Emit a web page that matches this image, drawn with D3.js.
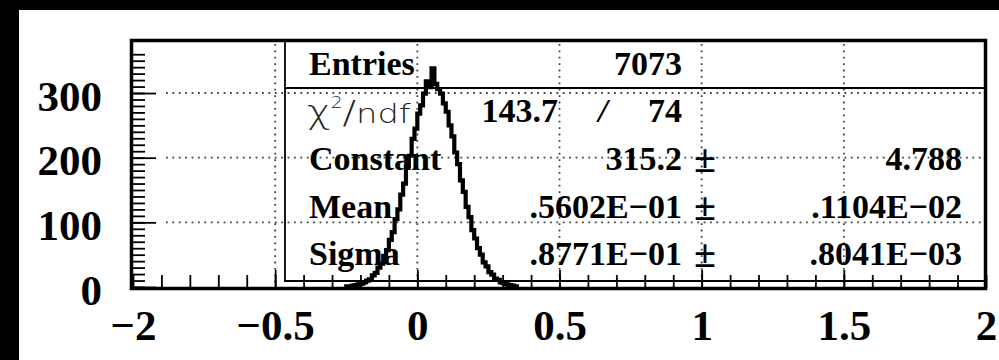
<!DOCTYPE html>
<html>
<head>
<meta charset="utf-8">
<script src="https://cdn.jsdelivr.net/npm/d3@7"></script>
<style>
body { margin: 0; background: #000; }
svg { display: block; }
</style>
</head>
<body>
<svg id="canvas" width="999" height="360"></svg>
<script>
'use strict';

// histogram: 0.01 wide bins, first left edge at -0.25
const binStart = -0.25;
const binWidth = 0.01;
const binCounts = [
  1, 1, 2, 3, 4, 5, 7, 10, 12, 18,
  22, 30, 36, 48, 57, 73, 85, 105, 120, 143,
  160, 186, 203, 229, 245, 268, 281, 299, 318, 309,
  338, 314, 306, 299, 284, 271, 250, 233, 208, 190,
  165, 147, 124, 108, 88, 75, 60, 50, 38, 32,
  23, 19, 13, 11, 7, 6, 4, 3, 2, 1
];

const xTickValues = [-1, -0.5, 0, 0.5, 1, 1.5, 2];
const xTickLabels = ['\u22122', '\u22120.5', '0', '0.5', '1', '1.5', '2'];
const xGridValues = [-0.5, 0, 0.5, 1, 1.5];
const yTickValues = [0, 100, 200, 300];
const yGridValues = [100, 200, 300];

const statNames = ['Entries', '', 'Constant', 'Mean', 'Sigma'];
const statValues = ['7073', '74', '315.2', '.5602E\u221201', '.8771E\u221201'];
const statErrors = ['', '', '4.788', '.1104E\u221202', '.8041E\u221203'];
const chi2Value = '143.7';

function Main() {
  const svg = d3.select('#canvas');
  const left = 132, right = 985, top = 41, bottom = 288;
  const serif = '"Liberation Serif", "Times New Roman", serif';

  svg.append('rect').attr('x', 19).attr('y', 10)
      .attr('width', 980).attr('height', 350).attr('fill', '#fff');

  const x = d3.scaleLinear().domain([-1, 2]).range([left + 1, right + 1]);
  const y = d3.scaleLinear().domain([0, 382]).range([bottom - 1, top - 1]);

  // dotted grid
  const grid = svg.append('g')
      .attr('stroke', '#444').attr('stroke-width', 1.8)
      .attr('stroke-dasharray', '1.8,4.6');
  grid.selectAll('line.gx').data(xGridValues).enter().append('line')
      .attr('x1', x).attr('x2', x).attr('y1', top + 3).attr('y2', bottom - 2);
  grid.selectAll('line.gy').data(yGridValues).enter().append('line')
      .attr('x1', left + 34).attr('x2', right - 2).attr('y1', y).attr('y2', y);

  // stats box
  svg.append('path')
      .attr('d', 'M285,' + top + 'V281H' + right + 'M285,88H' + right)
      .attr('fill', 'none').attr('stroke', '#000').attr('stroke-width', 1.8);

  // ticks
  const minorX = d3.range(-10, 21).map(function(i) { return i / 10; });
  const minorY = d3.range(0, 37).map(function(i) { return i * 10; });

  function StyleTicks(g) {
    g.select('.domain').remove();
    g.selectAll('line').attr('stroke', '#000').attr('stroke-width', 1.8);
  }

  svg.append('g').attr('transform', 'translate(0,' + bottom + ')')
      .call(d3.axisTop(x).tickValues(minorX).tickSize(13).tickFormat(''))
      .call(StyleTicks);
  svg.append('g').attr('transform', 'translate(0,' + bottom + ')')
      .call(d3.axisTop(x).tickValues(xGridValues).tickSize(18).tickFormat(''))
      .call(StyleTicks);
  svg.append('g').attr('transform', 'translate(' + left + ',0)')
      .call(d3.axisRight(y).tickValues(minorY).tickSize(13).tickFormat(''))
      .call(StyleTicks);
  svg.append('g').attr('transform', 'translate(' + left + ',0)')
      .call(d3.axisRight(y).tickValues(yTickValues).tickSize(24).tickFormat(''))
      .call(StyleTicks);

  // tick labels
  const xLab = svg.append('g').attr('transform', 'translate(0,' + bottom + ')')
      .call(d3.axisBottom(x).tickValues(xTickValues).tickSize(0).tickPadding(21)
        .tickFormat(function(d, i) { return xTickLabels[i]; }));
  xLab.select('.domain').remove();
  xLab.attr('font-family', serif).attr('font-size', 43).attr('font-weight', 'bold');
  xLab.selectAll('text').attr('fill', '#000');

  const yLab = svg.append('g').attr('transform', 'translate(' + left + ',0)')
      .call(d3.axisLeft(y).tickValues(yTickValues).tickSize(0).tickPadding(30));
  yLab.select('.domain').remove();
  yLab.attr('font-family', serif).attr('font-size', 43).attr('font-weight', 'bold');
  yLab.selectAll('text').attr('fill', '#000').attr('dy', '0.4em');

  // stats text
  const rowY = [75, 122, 170, 218, 265];
  const stats = svg.append('g')
      .attr('font-family', serif).attr('font-size', 34).attr('font-weight', 'bold');
  stats.selectAll('text.name').data(statNames).enter().append('text')
      .attr('x', 309).attr('y', function(d, i) { return rowY[i]; })
      .text(function(d) { return d; });
  stats.selectAll('text.val').data(statValues).enter().append('text')
      .attr('x', 682).attr('y', function(d, i) { return rowY[i]; })
      .attr('text-anchor', 'end').text(function(d) { return d; });
  stats.selectAll('text.err').data(statErrors).enter().append('text')
      .attr('x', 962).attr('y', function(d, i) { return rowY[i]; })
      .attr('text-anchor', 'end').text(function(d) { return d; });
  stats.selectAll('text.pm').data(statErrors.filter(function(d) { return d; }))
      .enter().append('text')
      .attr('x', 705).attr('y', function(d, i) { return rowY[i + 2] + 2; })
      .attr('text-anchor', 'middle').attr('font-size', 40).text('\u00b1');
  stats.append('text').attr('x', 558).attr('y', rowY[1])
      .attr('text-anchor', 'end').text(chi2Value);
  stats.append('text').attr('x', 603).attr('y', rowY[1])
      .attr('text-anchor', 'middle').attr('font-style', 'italic').text('/');

  const chi = svg.append('text')
      .attr('transform', 'translate(307,' + (rowY[1] + 1) + ') scale(1.25,1)')
      .attr('font-family', '"DejaVu Sans", sans-serif').attr('font-weight', 200)
      .attr('font-size', 27).attr('fill', '#222');
  chi.append('tspan').attr('font-size', 32).text('\u03c7');
  chi.append('tspan').attr('font-size', 15).attr('dy', -15).text('2');
  chi.append('tspan').attr('dy', 15).attr('font-size', 32).text('/');
  chi.append('tspan').text('ndf');

  // histogram outline
  const pts = [[binStart, 0]];
  binCounts.forEach(function(c, i) {
    const e = binStart + i * binWidth;
    pts.push([e, c], [e + binWidth, c]);
  });
  pts.push([binStart + binCounts.length * binWidth, 0]);
  svg.append('path')
      .attr('d', d3.line()
        .x(function(d) { return x(d[0]); })
        .y(function(d) { return y(d[1]); })(pts))
      .attr('fill', 'none').attr('stroke', '#000').attr('stroke-width', 4.2);

  // frame
  svg.append('rect').attr('x', left - 0.5).attr('y', top - 0.5)
      .attr('width', right - left + 1).attr('height', bottom - top + 1)
      .attr('fill', 'none').attr('stroke', '#000').attr('stroke-width', 3.5);
}

Main();
</script>
</body>
</html>
